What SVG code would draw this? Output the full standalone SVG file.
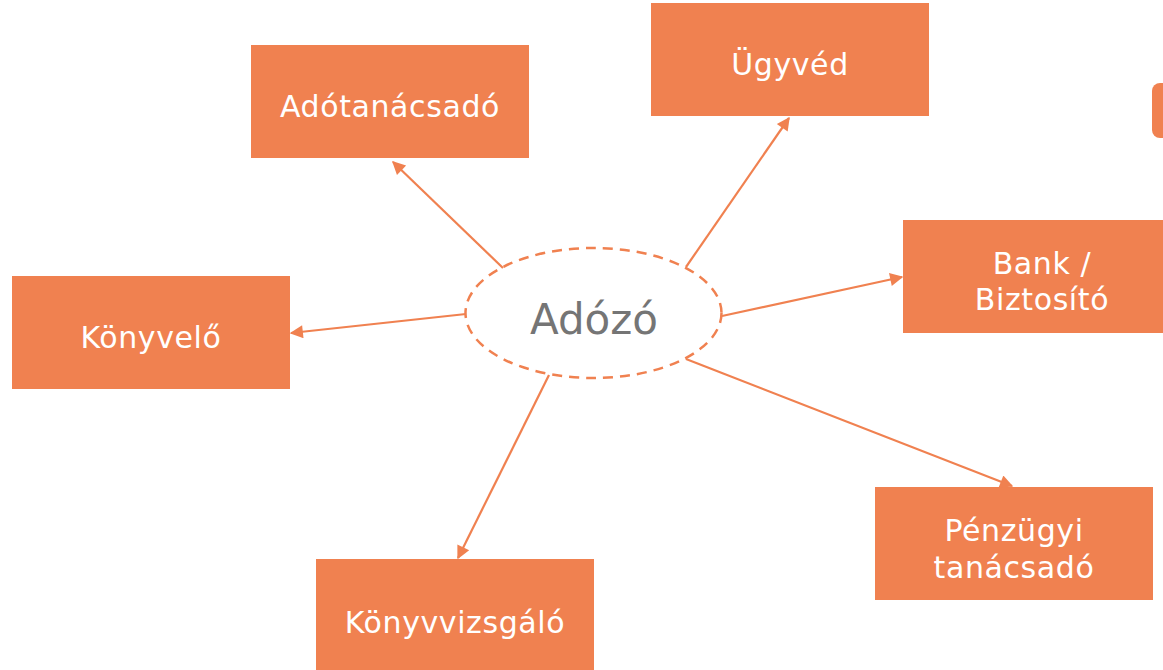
<svg xmlns="http://www.w3.org/2000/svg" width="1163" height="670" viewBox="0 0 1163 670">
<defs>
<style>
.box{fill:#F08150;}
.lbl{fill:#FFFFFF;font-family:"DejaVu Sans","Liberation Sans",sans-serif;font-size:30px;letter-spacing:0.6px;text-anchor:middle;}
.conn{stroke:#F08150;stroke-width:2.2;fill:none;marker-end:url(#ah);}
</style>
<marker id="ah" viewBox="0 0 10 10" refX="9" refY="5" markerWidth="7" markerHeight="6" orient="auto" markerUnits="strokeWidth">
<path d="M0,0 L10,5 L0,10 z" fill="#F08150"/>
</marker>
</defs>
<rect width="1163" height="670" fill="#FFFFFF"/>
<g id="partial"><rect class="box" x="1152" y="83" width="40" height="55" rx="8"/></g>
<g id="adozo">
<ellipse cx="593.5" cy="313" rx="128" ry="65" fill="none" stroke="#F08150" stroke-width="2.5" stroke-dasharray="10,7"/>
<text x="594" y="334" font-family="DejaVu Sans,Liberation Sans,sans-serif" font-size="42" fill="#757575" text-anchor="middle">Adózó</text>
</g>
<g id="adotanacsado"><rect class="box" x="251" y="45" width="278" height="113"/><text class="lbl" x="390" y="117">Adótanácsadó</text></g>
<g id="ugyved"><rect class="box" x="651" y="3" width="278" height="113"/><text class="lbl" x="790" y="75">Ügyvéd</text></g>
<g id="konyvelo"><rect class="box" x="12" y="276" width="278" height="113"/><text class="lbl" x="151" y="348">Könyvelő</text></g>
<g id="bank"><rect class="box" x="903" y="220" width="278" height="113"/><text class="lbl" x="1042" y="274">Bank /</text><text class="lbl" x="1042" y="310">Biztosító</text></g>
<g id="penzugyi"><rect class="box" x="875" y="487" width="278" height="113"/><text class="lbl" x="1014" y="541">Pénzügyi</text><text class="lbl" x="1014" y="578">tanácsadó</text></g>
<g id="konyvvizsgalo"><rect class="box" x="316" y="559" width="278" height="113"/><text class="lbl" x="455" y="633">Könyvvizsgáló</text></g>
<g id="connectors">
<line class="conn" x1="503" y1="268" x2="393" y2="162"/>
<line class="conn" x1="686" y1="267" x2="789" y2="118"/>
<line class="conn" x1="466" y1="314" x2="291" y2="333"/>
<line class="conn" x1="722" y1="316" x2="902" y2="277"/>
<line class="conn" x1="686" y1="359" x2="1012" y2="486"/>
<line class="conn" x1="549" y1="375" x2="458" y2="558"/>
</g>
</svg>
